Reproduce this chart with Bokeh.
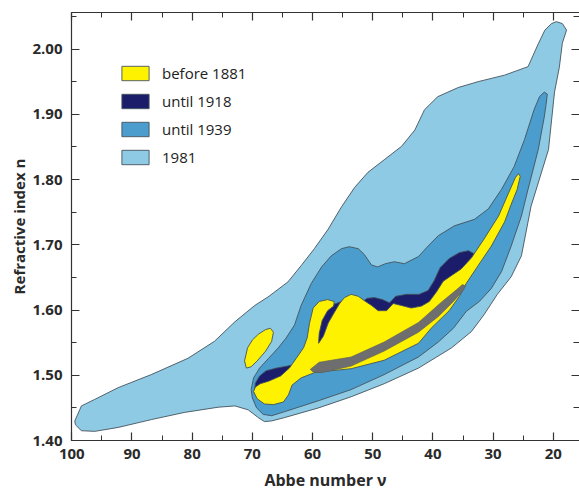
from bokeh.plotting import figure
from bokeh.models import (Range1d, SingleIntervalTicker, NumeralTickFormatter,
                          LinearAxis, Legend, LegendItem, Title)
from bokeh.embed import file_html
from bokeh.resources import INLINE

# ---- data: outlines of glass regions (Abbe number, refractive index) ----
abbe_1981 = [99.5, 98.4, 96.2, 92.3, 86.8, 80.7, 76.3, 72.9, 69.6, 67.4, 64.1, 61.9, 59.7, 57.4, 55.2,
             53.0, 50.8, 48.0, 45.2, 43.0, 41.4, 39.2, 35.8, 32.5, 28.1, 24.2, 22.5, 21.4, 20.3, 19.5,
             18.5, 17.8, 18.5, 19.0, 19.8, 20.8, 23.7, 25.3, 27.0, 29.3, 31.5, 33.6, 36.9, 42.4, 48.1,
             53.6, 59.0, 64.7, 66.8, 68.0, 69.0, 70.7, 72.9, 75.7, 81.3, 86.8, 92.3, 96.2, 98.4, 99.4]
n_1981 = [1.430, 1.453, 1.463, 1.481, 1.501, 1.526, 1.552, 1.582, 1.607, 1.620, 1.643, 1.668, 1.694, 1.724, 1.758,
          1.788, 1.811, 1.831, 1.851, 1.876, 1.907, 1.927, 1.941, 1.950, 1.960, 1.973, 2.008, 2.029, 2.039, 2.042,
          2.039, 2.029, 2.009, 1.972, 1.934, 1.846, 1.759, 1.683, 1.651, 1.624, 1.593, 1.567, 1.542, 1.511, 1.487,
          1.467, 1.450, 1.435, 1.430, 1.429, 1.435, 1.447, 1.453, 1.451, 1.443, 1.432, 1.420, 1.414, 1.415, 1.424]

abbe_1939 = [70.2, 69.8, 68.8, 67.3, 65.7, 64.4, 63.0, 61.9, 60.2, 58.5, 56.9, 55.2, 53.9, 52.4, 51.4,
             50.2, 49.2, 47.9, 46.4, 44.75, 42.4, 40.8, 39.1, 36.45, 33.1, 30.8, 28.6, 26.5, 24.8, 23.2,
             22.3, 21.5, 21.0, 21.2, 21.5, 22.5, 24.2, 25.3, 27.0, 28.6, 30.3, 32.3, 34.45, 36.6, 39.1,
             42.4, 48.1, 53.6, 59.0, 64.7, 66.8, 68.2, 69.3, 70.0]
n_1939 = [1.478, 1.496, 1.511, 1.526, 1.542, 1.557, 1.577, 1.607, 1.641, 1.666, 1.683, 1.694, 1.697, 1.694, 1.685,
          1.669, 1.666, 1.671, 1.674, 1.671, 1.682, 1.698, 1.714, 1.729, 1.739, 1.755, 1.785, 1.820, 1.861, 1.907,
          1.927, 1.934, 1.931, 1.915, 1.896, 1.846, 1.785, 1.744, 1.698, 1.659, 1.633, 1.613, 1.598, 1.572, 1.551,
          1.528, 1.501, 1.478, 1.461, 1.444, 1.438, 1.440, 1.450, 1.465]

abbe_1918 = [69.7, 69.5, 68.8, 67.7, 66.0, 64.2, 62.85, 61.0, 59.9, 59.4, 58.5, 57.5, 56.4, 55.2, 51.9,
             50.9, 49.7, 48.4, 47.2, 46.2, 44.4, 42.3, 40.8, 39.8, 38.8, 37.3, 35.6, 34.1, 33.1, 32.5,
             34.3, 36.1, 41.9, 51.9, 60.2, 63.2, 66.0, 68.2]
n_1918 = [1.473, 1.488, 1.499, 1.507, 1.511, 1.514, 1.517, 1.534, 1.546, 1.564, 1.587, 1.601, 1.609, 1.613, 1.612,
          1.618, 1.619, 1.616, 1.611, 1.621, 1.624, 1.624, 1.630, 1.645, 1.665, 1.679, 1.688, 1.691, 1.686, 1.676,
          1.653, 1.630, 1.587, 1.549, 1.523, 1.496, 1.473, 1.469]

abbe_1881 = [69.8, 69.5, 68.7, 67.3, 65.3, 63.85, 62.7, 61.5, 60.9, 60.5, 59.9, 58.9, 57.5, 56.4, 56.5,
             57.5, 58.4, 58.9, 59.0, 58.2, 57.4, 56.4, 55.5, 54.7, 53.6, 52.4, 51.2, 50.2, 49.1, 47.7,
             46.6, 45.25, 43.6, 41.9, 40.6, 39.4, 38.3, 36.9, 35.3, 33.6, 31.5, 29.1, 27.5, 26.3, 25.8,
             25.5, 26.0, 27.0, 28.1, 30.3, 32.5, 34.45, 35.6, 37.3, 40.3, 42.4, 48.1, 53.6, 56.9, 59.7,
             61.9, 63.4, 64.0, 64.85, 66.5, 68.0, 69.2]
n_1881 = [1.475, 1.482, 1.487, 1.491, 1.499, 1.511, 1.526, 1.542, 1.557, 1.580, 1.603, 1.613, 1.616, 1.613, 1.606,
          1.599, 1.584, 1.564, 1.549, 1.560, 1.580, 1.596, 1.610, 1.619, 1.624, 1.621, 1.613, 1.607, 1.599, 1.599,
          1.610, 1.607, 1.603, 1.606, 1.613, 1.628, 1.644, 1.653, 1.663, 1.680, 1.709, 1.744, 1.778, 1.803, 1.809,
          1.805, 1.785, 1.762, 1.735, 1.698, 1.668, 1.641, 1.621, 1.599, 1.572, 1.549, 1.523, 1.510, 1.507, 1.504,
          1.496, 1.485, 1.470, 1.459, 1.455, 1.456, 1.464]

abbe_1881_b = [71.3, 70.8, 70.0, 69.0, 67.8, 67.0, 66.5, 66.8, 67.8, 69.2, 70.2, 71.0]
n_1881_b = [1.522, 1.542, 1.554, 1.563, 1.570, 1.572, 1.566, 1.552, 1.537, 1.522, 1.513, 1.511]

abbe_grey = [60.4, 58.9, 53.6, 48.1, 42.4, 38.6, 36.1, 35.1, 34.6, 34.95, 36.6, 39.1, 42.4, 48.1, 53.6, 58.5, 59.9]
n_grey = [1.509, 1.520, 1.528, 1.551, 1.581, 1.612, 1.631, 1.639, 1.637, 1.630, 1.613, 1.590, 1.566, 1.537, 1.514,
          1.504, 1.505]

labels = ["before 1881", "until 1918", "until 1939", "1981"]
colors = {"1981": "#8ecae4", "until 1939": "#4a9dcc", "until 1918": "#1b1d6b",
          "before 1881": "#fff200", "grey": "#6e6e6e"}
x_title = "Abbe number ν"
y_title = "Refractive index n"

EDGE = "#44525c"
FONT = "Open Sans"
INK = "#2a2a2a"

p = figure(width=579, height=493, x_range=Range1d(100.05, 15.65), y_range=Range1d(1.40, 2.056),
           output_backend="svg", toolbar_location=None,
           min_border_left=71, min_border_right=0, min_border_top=12, min_border_bottom=50,
           x_axis_label=x_title)
p.grid.visible = False
p.outline_line_color = None
p.background_fill_color = "white"
p.border_fill_color = "white"

r1981 = p.patch(abbe_1981, n_1981, fill_color=colors["1981"], line_color=EDGE, line_width=0.9)
r1939 = p.patch(abbe_1939, n_1939, fill_color=colors["until 1939"], line_color=EDGE, line_width=0.9)
r1918 = p.patch(abbe_1918, n_1918, fill_color=colors["until 1918"], line_color=EDGE, line_width=0.9)
r1881 = p.patch(abbe_1881, n_1881, fill_color=colors["before 1881"], line_color=EDGE, line_width=0.9)
p.patch(abbe_1881_b, n_1881_b, fill_color=colors["before 1881"], line_color=EDGE, line_width=0.9)
p.patch(abbe_grey, n_grey, fill_color=colors["grey"], line_color="#5a5a5a", line_width=0.6)

# axes
p.xaxis.ticker = SingleIntervalTicker(interval=10, num_minor_ticks=2)
p.yaxis.ticker = SingleIntervalTicker(interval=0.1, num_minor_ticks=2)
p.yaxis.formatter = NumeralTickFormatter(format="0.00")

for ax in (p.xaxis[0], p.yaxis[0]):
    ax.axis_line_color = "#333333"
    ax.axis_line_width = 1.2
    ax.major_tick_line_color = "#333333"
    ax.minor_tick_line_color = "#333333"
    ax.major_tick_line_width = 1.2
    ax.minor_tick_line_width = 1.0
    ax.major_tick_in = 8
    ax.major_tick_out = 0
    ax.minor_tick_in = 5
    ax.minor_tick_out = 0
    ax.major_label_text_font = FONT
    ax.major_label_text_font_style = "bold"
    ax.major_label_text_font_size = "15px"
    ax.major_label_text_color = INK
    ax.axis_label_text_font = FONT
    ax.axis_label_text_font_style = "bold"
    ax.axis_label_text_color = INK
p.xaxis.major_label_standoff = 8
p.yaxis.major_label_standoff = 9
p.xaxis.axis_label_text_font_size = "16px"
p.xaxis.axis_label_standoff = 7

top = LinearAxis(ticker=SingleIntervalTicker(interval=10, num_minor_ticks=2),
                 major_label_text_font_size="0px", major_label_text_color=None,
                 major_label_standoff=0,
                 axis_line_color="#333333", axis_line_width=1.2,
                 major_tick_in=8, major_tick_out=0, minor_tick_in=5, minor_tick_out=0,
                 major_tick_line_color="#333333", minor_tick_line_color="#333333",
                 major_tick_line_width=1.2)
right = LinearAxis(ticker=SingleIntervalTicker(interval=0.1, num_minor_ticks=2),
                   major_label_text_font_size="0px", major_label_text_color=None,
                   major_label_standoff=0,
                   axis_line_color=None, major_tick_in=8, major_tick_out=0,
                   minor_tick_in=6, minor_tick_out=0,
                   major_tick_line_color="#333333", minor_tick_line_color="#333333",
                   major_tick_line_width=1.2)
p.add_layout(top, "above")
p.add_layout(right, "right")

# y-axis title as a side title, shifted a little below the frame centre as in the reference
p.add_layout(Title(text=y_title, align="center", offset=-17, standoff=2,
                   text_font=FONT, text_font_style="bold", text_font_size="15px",
                   text_color=INK), "left")

legend = Legend(items=[LegendItem(label=labels[0], renderers=[r1881]),
                       LegendItem(label=labels[1], renderers=[r1918]),
                       LegendItem(label=labels[2], renderers=[r1939]),
                       LegendItem(label=labels[3], renderers=[r1981])],
                location=(47, 273), padding=0, margin=0, spacing=8,
                glyph_width=34, glyph_height=18, label_height=18, label_standoff=10,
                label_text_font=FONT, label_text_font_size="15px", label_text_color="#222222",
                background_fill_alpha=0, border_line_alpha=0)
p.add_layout(legend, "center")

open("out.html", "w").write(file_html(p, INLINE))
